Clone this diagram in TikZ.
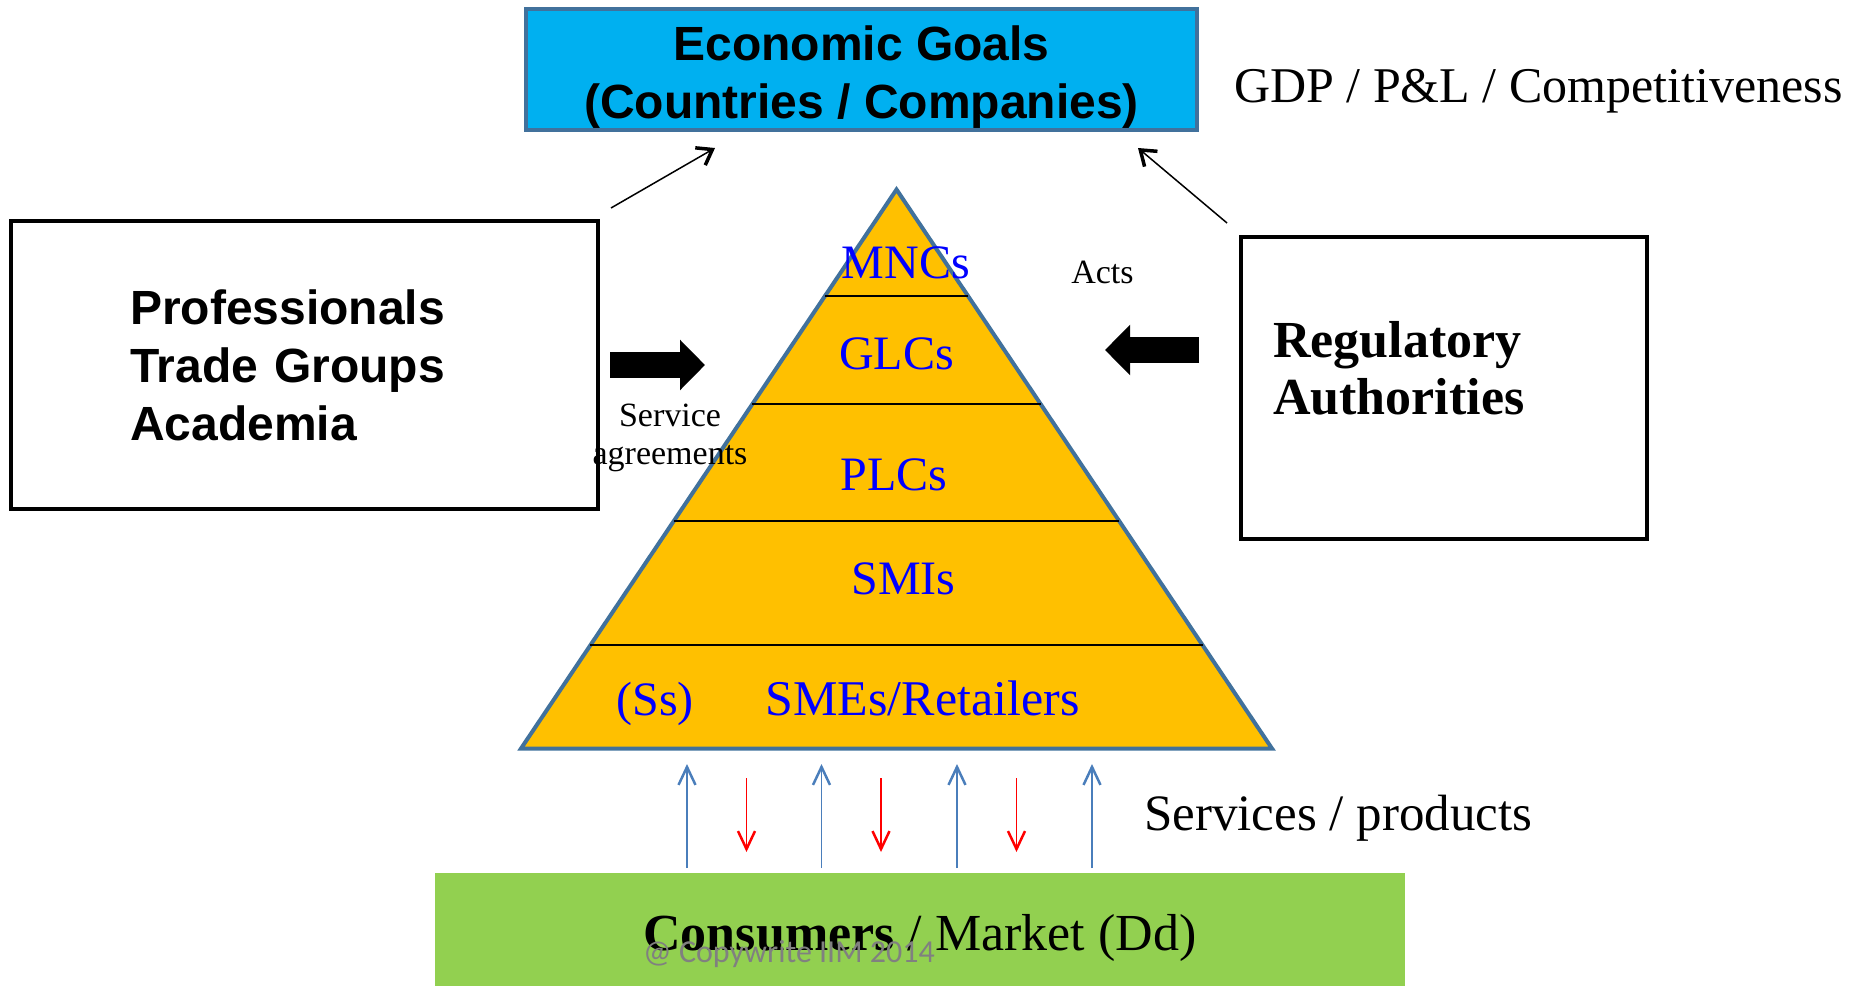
\documentclass[tikz,border=0pt]{standalone}
\usepackage{fontspec}
\setmainfont{Liberation Serif}
\setsansfont{Liberation Sans}
\newfontfamily\markfont{Carlito}
\usetikzlibrary{calc,arrows.meta}

\definecolor{goalcyan}{HTML}{00B0F0}
\definecolor{rimblue}{HTML}{41719C}
\definecolor{tiergold}{HTML}{FFC000}
\definecolor{marketgreen}{HTML}{92D050}
\definecolor{flowblue}{HTML}{4A7EBB}
\definecolor{flowred}{HTML}{FF0000}

\newcommand{\fsz}[2]{\fontsize{#1}{#2}\selectfont}

\begin{document}
\begin{tikzpicture}[x=1pt,y=-1pt,inner sep=0pt,
      box/.style={draw,line width=4pt,rectangle},
      tier/.style={text=blue,font=\fsz{48}{56}},
      note/.style={font=\fsz{34}{38},align=center},
      thin arrow/.style={line width=1.5pt,-{Straight Barb[length=14pt,width=20pt,line width=3.5pt]}},
      flow/.style={line width=1.8pt,-{Straight Barb[length=18pt,width=17pt,line width=2.5pt]}},
      fat arrow/.style={line width=26pt,-{Triangle[length=25pt,width=49pt]}}]
    \useasboundingbox (0,0) rectangle (1857,985);

    % goals at the top
    \node[draw=rimblue,line width=3.5pt,fill=goalcyan,minimum width=671pt,minimum height=121pt] (goals)
      at (861.5,69.5) {};
    \node[align=center,font=\sffamily\bfseries\fsz{48}{58}] (goaltext) at (861.5,77)
      {Economic Goals\\(Countries / Companies)};
    \node[anchor=west,font=\fsz{50}{56}] (gdp) at (1234,91) {GDP / P\&L / Competitiveness};

    % side boxes
    \node[box,minimum width=587pt,minimum height=288pt,text width=349pt,inner xsep=119pt,
      align=left,font=\sffamily\bfseries\fsz{48}{58}] (pro) at (304.5,365)
      {Professionals\\Trade Groups\\Academia};
    \node[box,minimum width=406pt,minimum height=302pt] (reg) at (1444,388) {};
    \node[anchor=west,align=left,font=\bfseries\fsz{52}{57}] (regtext)
      at ($(reg.west)+(34,-19.5)$) {Regulatory\\Authorities};

    % pyramid
    \coordinate (apex) at (896.5,189.5);
    \coordinate (baseL) at (521,748.5);
    \coordinate (baseR) at (1272,748.5);
    \filldraw[fill=tiergold,draw=rimblue,line width=4pt] (apex) -- (baseR) -- (baseL) -- cycle;
    \foreach \t in {0.1905,0.3837,0.593,0.8157}
      \draw[line width=2pt] ($(apex)!\t!(baseL)$) -- ($(apex)!\t!(baseR)$);

    \node[tier] (mnc) at (906,263) {MNCs};
    \node[tier] (glc) at (896.5,354) {GLCs};
    \node[tier] (plc) at (894,475) {PLCs};
    \node[tier] (smi) at (903.5,579) {SMIs};
    \node[tier,anchor=base] (ss) at (655,715) {(Ss)};
    \node[tier,anchor=base,font=\fsz{50}{56}] (sme) at (922.5,715) {SMEs/Retailers};

    % labels
    \node[note] (svc) at (670,438) {Service\\agreements};
    \node[note] (acts) at (1102.5,272) {Acts};
    \node[anchor=west,font=\fsz{51}{56}] (sp) at (1144,818) {Services / products};

    % block arrows
    \coordinate (svcL) at (610,365);
    \coordinate (svcR) at (705,365);
    \coordinate (actR) at (1199,350);
    \coordinate (actL) at (1105,350);
    \draw[fat arrow] (svcL) -- (svcR);
    \draw[fat arrow] (actR) -- (actL);

    % thin arrows to the goals
    \coordinate (proTop) at (611,208);
    \coordinate (goalL) at (715,148);
    \coordinate (regTop) at (1227,223);
    \coordinate (goalR) at (1138,148);
    \draw[thin arrow] (proTop) -- (goalL);
    \draw[thin arrow] (regTop) -- (goalR);

    % market
    \node[fill=marketgreen,minimum width=970pt,minimum height=124pt] (market) at (920,935) {};
    \node[font=\fsz{52}{58}] (marketext) at (920,938) {\textbf{Consumers} / Market (Dd)};
    \foreach \x in {687,821.5,957,1092}
      \draw[flow,flowblue] (\x,868) -- (\x,764);
    \foreach \x in {746.5,881,1016.5}
      \draw[flow,flowred] (\x,778) -- (\x,852);
    \node[anchor=west,text=gray,font=\markfont\fsz{32}{36}] (mark) at (643,954) {@ Copywrite IIM 2014};
\end{tikzpicture}
\end{document}
